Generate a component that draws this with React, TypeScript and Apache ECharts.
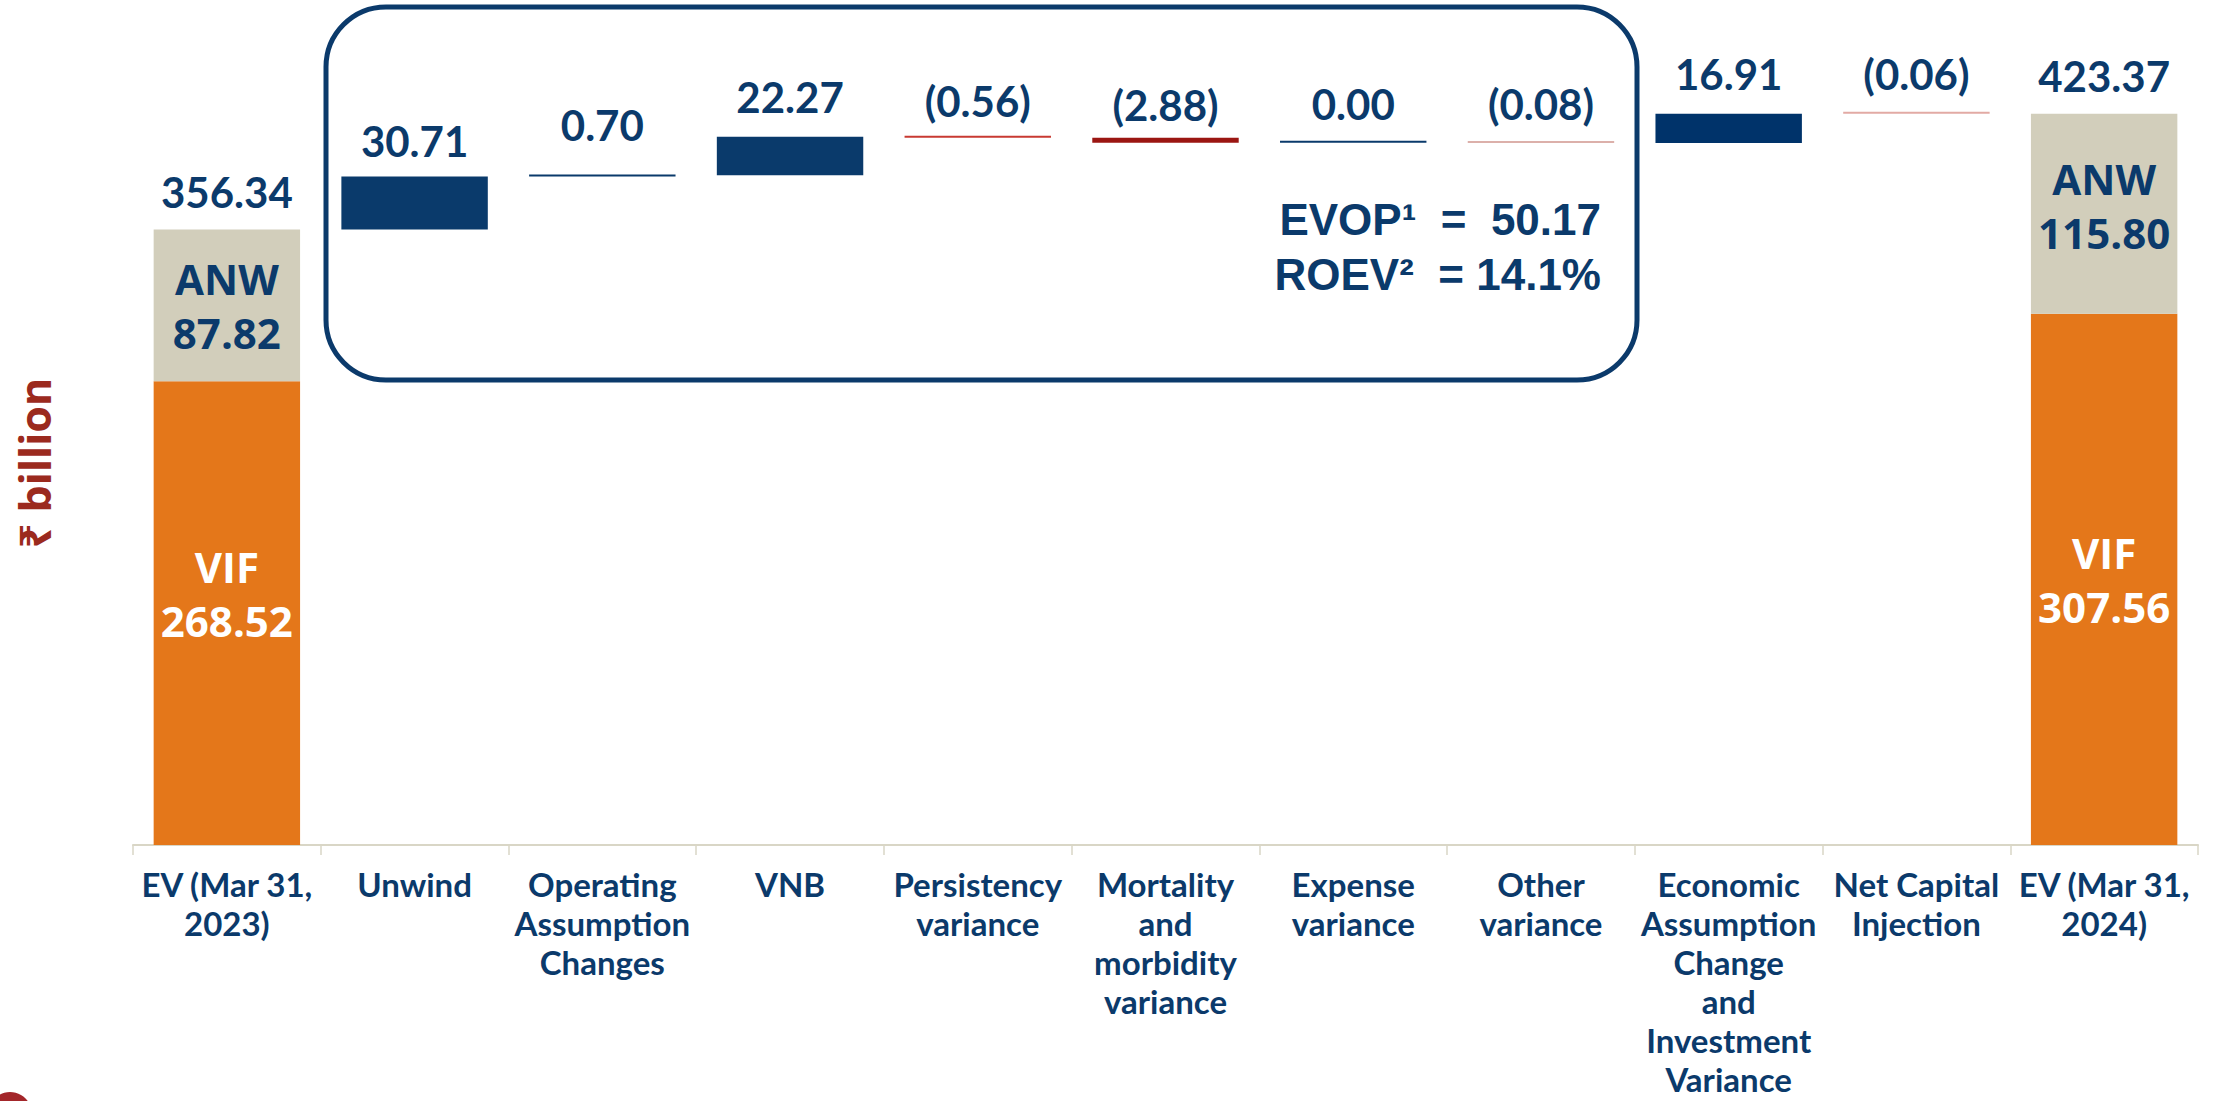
import React, { useEffect, useRef } from "react";
import * as echarts from "echarts";

// ---------- data ----------
const categories = [
  "EV (Mar 31,\n2023)",
  "Unwind",
  "Operating\nAssumption\nChanges",
  "VNB",
  "Persistency\nvariance",
  "Mortality\nand\nmorbidity\nvariance",
  "Expense\nvariance",
  "Other\nvariance",
  "Economic\nAssumption\nChange\nand\nInvestment\nVariance",
  "Net Capital\nInjection",
  "EV (Mar 31,\n2024)",
];

const openingEV = 356.34;
const openingANW = 87.82;
const openingVIF = 268.52;
const closingEV = 423.37;
const closingANW = 115.8;
const closingVIF = 307.56;

// movements for categories 1..9
const movements = [30.71, 0.7, 22.27, -0.56, -2.88, 0.0, -0.08, 16.91, -0.06];

const evopValue = 50.17;
const roevValue = "14.1%";

// ---------- styles ----------
const NAVY = "#0b3a6b";
const movementColors = [
  "#0a3a6b",
  "#0a3a6b",
  "#0a3a6b",
  "#c83a32",
  "#9b1612",
  "#0a3a6b",
  "#dcb0aa",
  "#00336a",
  "#e2aaa4",
];
const movementLabelDistance = [15, 29, 19, 14, 12, 16, 16, 19, 17];

const fmt = (m: number) => (m < 0 ? `(${Math.abs(m).toFixed(2)})` : m.toFixed(2));

export default function App() {
  const ref = useRef<HTMLDivElement>(null);

  useEffect(() => {
    if (!ref.current) return;
    const chart = echarts.init(ref.current, null, { renderer: "svg" });

    const n = categories.length;
    const base: any[] = ["-"];
    const delta: any[] = ["-"];
    let run = openingEV;
    movements.forEach((m, i) => {
      const end = run + m;
      base.push(+Math.min(run, end).toFixed(2));
      delta.push({
        value: +Math.abs(m).toFixed(2),
        itemStyle: { color: movementColors[i] },
        label: { distance: movementLabelDistance[i] },
      });
      run = end;
    });
    base.push("-");
    delta.push("-");

    const endsOnly = (a: any, b: any) =>
      categories.map((_, i) => (i === 0 ? a : i === n - 1 ? b : "-"));

    const vif = endsOnly({ value: openingVIF, label: { offset: [0, -20] } }, closingVIF);
    const anw = endsOnly(openingANW, { value: closingANW, label: { offset: [0, -8] } });
    const totals = endsOnly(openingEV, closingEV);

    const valueLabel = {
      color: NAVY,
      fontSize: 42,
      fontWeight: "bold",
      fontFamily: "Lato",
      opacity: 1,
    };

    const insideLabel = {
      show: true,
      position: "inside",
      fontSize: 42,
      fontWeight: "bold",
      fontFamily: "Open Sans",
      lineHeight: 54,
    };

    const option: any = {
      animation: false,
      grid: {
        left: 133,
        right: 23,
        top: 16,
        bottom: 256,
        containLabel: false,
        outerBoundsMode: "none",
      },
      xAxis: {
        type: "category",
        data: categories,
        axisLine: { lineStyle: { color: "#d9d6c6", width: 2 } },
        axisTick: { show: true, length: 10, lineStyle: { color: "#d9d6c6", width: 1.5 } },
        axisLabel: {
          interval: 0,
          color: NAVY,
          fontSize: 33,
          fontWeight: "bold",
          fontFamily: "Lato",
          lineHeight: 39,
          margin: 19,
        },
      },
      yAxis: {
        type: "value",
        min: 0,
        max: 480,
        axisLine: { show: false },
        axisTick: { show: false },
        axisLabel: { show: false },
        splitLine: { show: false },
      },
      series: [
        {
          name: "VIF",
          type: "bar",
          stack: "ev",
          barCategoryGap: "22%",
          data: vif,
          itemStyle: { color: "#e4771a" },
          label: {
            ...insideLabel,
            color: "#ffffff",
            formatter: (p: any) => `VIF\n${Number(p.value).toFixed(2)}`,
          },
        },
        {
          name: "ANW",
          type: "bar",
          stack: "ev",
          data: anw,
          itemStyle: { color: "#d2cebb" },
          label: {
            ...insideLabel,
            color: NAVY,
            formatter: (p: any) => `ANW\n${Number(p.value).toFixed(2)}`,
          },
        },
        {
          name: "base",
          type: "bar",
          stack: "ev",
          data: base,
          silent: true,
          itemStyle: { color: "transparent" },
        },
        {
          name: "movement",
          type: "bar",
          stack: "ev",
          data: delta,
          barMinHeight: 2,
          label: {
            show: true,
            position: "top",
            ...valueLabel,
            formatter: (p: any) => fmt(movements[p.dataIndex - 1]),
          },
        },
        {
          name: "total",
          type: "scatter",
          data: totals,
          symbolSize: 1,
          silent: true,
          itemStyle: { color: "transparent", opacity: 1 },
          label: {
            show: true,
            position: "top",
            distance: 16,
            ...valueLabel,
            formatter: (p: any) => Number(p.value).toFixed(2),
          },
        },
      ],
      graphic: [
        {
          type: "rect",
          shape: { x: 326, y: 7, width: 1311, height: 373, r: 60 },
          style: { fill: "none", stroke: NAVY, lineWidth: 5 },
          silent: true,
        },
        {
          type: "text",
          x: 1601,
          y: 219,
          style: {
            text: `EVOP¹  =  ${evopValue.toFixed(2)}`,
            align: "right",
            verticalAlign: "middle",
            fontSize: 44,
            fontWeight: "bold",
            fontFamily: "Liberation Sans",
            fill: NAVY,
          },
        },
        {
          type: "text",
          x: 1601,
          y: 274,
          style: {
            text: `ROEV²  = ${roevValue}`,
            align: "right",
            verticalAlign: "middle",
            fontSize: 44,
            fontWeight: "bold",
            fontFamily: "Liberation Sans",
            fill: NAVY,
          },
        },
        {
          type: "text",
          x: 34,
          y: 463,
          rotation: Math.PI / 2,
          style: {
            text: "₹ billion",
            align: "center",
            verticalAlign: "middle",
            fontSize: 43,
            fontWeight: "bold",
            fontFamily: "Open Sans, Noto Sans, DejaVu Sans",
            fill: "#9b2a1e",
          },
        },
        {
          type: "circle",
          shape: { cx: 10, cy: 1114, r: 22 },
          style: { fill: "#a3262a" },
          silent: true,
        },
      ],
    };

    chart.setOption(option);
    return () => chart.dispose();
  }, []);

  return (
    <div
      ref={ref}
      style={{ position: "fixed", left: 0, top: 0, width: 2221, height: 1101, background: "#ffffff" }}
    />
  );
}
